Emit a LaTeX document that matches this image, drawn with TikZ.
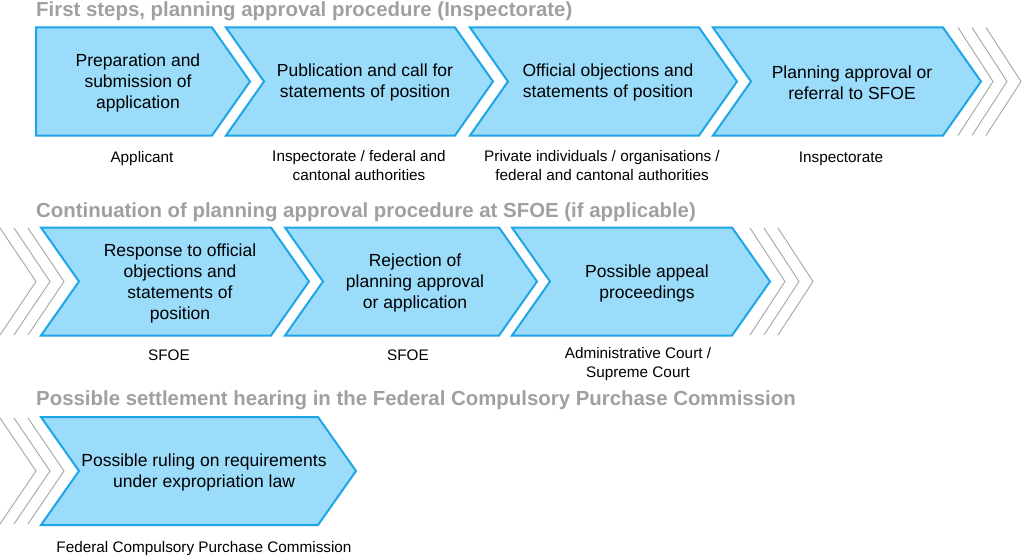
\documentclass[tikz,border=0pt]{standalone}
\usepackage{fontspec}
\setmainfont{Liberation Sans}
\definecolor{chevfill}{RGB}{155,220,250}
\definecolor{chevline}{RGB}{30,165,230}
\definecolor{titlegray}{RGB}{160,160,160}
\definecolor{grayline}{RGB}{165,165,165}
\begin{document}
\begin{tikzpicture}[x=1pt,y=-1pt,
  chev/.style={fill=chevfill,draw=chevline,line width=2pt,line join=miter},
  glin/.style={draw=grayline,line width=0.9pt},
  boxtext/.style={align=center,font=\fontsize{17.5}{21}\selectfont,inner sep=0pt},
  lbl/.style={align=center,font=\fontsize{15.3}{19}\selectfont,inner sep=0pt,anchor=base},
  ttl/.style={font=\bfseries\fontsize{20.4}{24}\selectfont,text=titlegray,anchor=base west,inner sep=0pt}]
\useasboundingbox[fill=white] (0,0) rectangle (1024,559);

% ---- Row 1 ----
\node[ttl] (title1) at (36,17) {First steps, planning approval procedure (Inspectorate)};
\draw[chev] (36,27.5) -- (212,27.5) -- (250,81.5) -- (212,135.5) -- (36,135.5) -- cycle;
\foreach \l/\r in {226/455,470/699,713/943}
  \draw[chev] (\l,27.5) -- (\r,27.5) -- ({\r+38},81.5) -- (\r,135.5) -- (\l,135.5) -- ({\l+38},81.5) -- cycle;
\foreach \x in {958,972,986}
  \draw[glin] (\x,27.5) -- ({\x+35},81.5) -- (\x,135.5);
\node[boxtext] (t1) at (138,82.5) {Preparation and\\submission of\\application};
\node[boxtext] (t2) at (365,82.5) {Publication and call for\\statements of position};
\node[boxtext] (t3) at (608,82.5) {Official objections and\\statements of position};
\node[boxtext] (t4) at (852,82.5) {Planning approval or\\referral to SFOE};
\node[lbl] (l1) at (142,162) {Applicant};
\node[lbl] (l2) at (359,180) {Inspectorate / federal and\\cantonal authorities};
\node[lbl] (l3) at (602,180) {Private individuals / organisations /\\federal and cantonal authorities};
\node[lbl] (l4) at (841,162) {Inspectorate};

% ---- Row 2 ----
\node[ttl] (title2) at (36,217) {Continuation of planning approval procedure at SFOE (if applicable)};
\foreach \x in {0,14,28}
  \draw[glin] (\x,228) -- ({\x+36},281.5) -- (\x,335);
\foreach \l/\r in {41/271,285/499,512/732}
  \draw[chev] (\l,227.5) -- (\r,227.5) -- ({\r+38},281.5) -- (\r,335.5) -- (\l,335.5) -- ({\l+38},281.5) -- cycle;
\foreach \x in {750,764,778}
  \draw[glin] (\x,228) -- ({\x+35},281.5) -- (\x,335);
\node[boxtext] (t5) at (180,283) {Response to official\\objections and\\statements of\\position};
\node[boxtext] (t6) at (415,283) {Rejection of\\planning approval\\or application};
\node[boxtext] (t7) at (647,283) {Possible appeal\\proceedings};
\node[lbl] (l5) at (169,360) {SFOE};
\node[lbl] (l6) at (408,360) {SFOE};
\node[lbl] (l7) at (638,377) {Administrative Court /\\Supreme Court};

% ---- Row 3 ----
\node[ttl] (title3) at (36,405) {Possible settlement hearing in the Federal Compulsory Purchase Commission};
\foreach \x in {0,14,28}
  \draw[glin] (\x,418) -- ({\x+36},471) -- (\x,524);
\draw[chev] (41,417) -- (318,417) -- (356,471) -- (318,525) -- (41,525) -- (79,471) -- cycle;
\node[boxtext] (t8) at (204,472) {Possible ruling on requirements\\under expropriation law};
\node[lbl] (l8) at (204,552) {Federal Compulsory Purchase Commission};
\end{tikzpicture}
\end{document}
